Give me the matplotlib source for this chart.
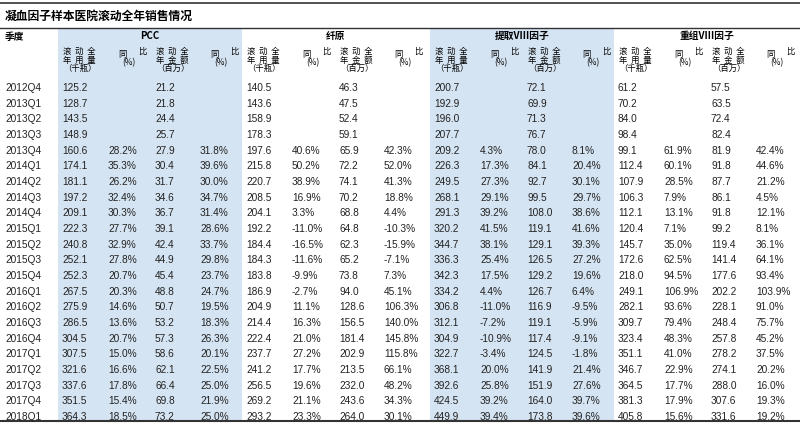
import matplotlib
matplotlib.use("Agg")
import matplotlib.pyplot as plt

plt.rcParams['font.family'] = ['Liberation Sans', 'Noto Sans CJK SC', 'DejaVu Sans']

quarters = ["2012Q4","2013Q1","2013Q2","2013Q3","2013Q4","2014Q1","2014Q2","2014Q3","2014Q4",
            "2015Q1","2015Q2","2015Q3","2015Q4","2016Q1","2016Q2","2016Q3","2016Q4",
            "2017Q1","2017Q2","2017Q3","2017Q4","2018Q1"]
groups = ["PCC", "纤原", "提取VIII因子", "重组VIII因子"]

pcc_vol = ["125.2","128.7","143.5","148.9","160.6","174.1","181.1","197.2","209.1","222.3","240.8","252.1","252.3","267.5","275.9","286.5","304.5","307.5","321.6","337.6","351.5","364.3"]
pcc_vol_yoy = ["","","","","28.2%","35.3%","26.2%","32.4%","30.3%","27.7%","32.9%","27.8%","20.7%","20.3%","14.6%","13.6%","20.7%","15.0%","16.6%","17.8%","15.4%","18.5%"]
pcc_amt = ["21.2","21.8","24.4","25.7","27.9","30.4","31.7","34.6","36.7","39.1","42.4","44.9","45.4","48.8","50.7","53.2","57.3","58.6","62.1","66.4","69.8","73.2"]
pcc_amt_yoy = ["","","","","31.8%","39.6%","30.0%","34.7%","31.4%","28.6%","33.7%","29.8%","23.7%","24.7%","19.5%","18.3%","26.3%","20.1%","22.5%","25.0%","21.9%","25.0%"]

fib_vol = ["140.5","143.6","158.9","178.3","197.6","215.8","220.7","208.5","204.1","192.2","184.4","184.3","183.8","186.9","204.9","214.4","222.4","237.7","241.2","256.5","269.2","293.2"]
fib_vol_yoy = ["","","","","40.6%","50.2%","38.9%","16.9%","3.3%","-11.0%","-16.5%","-11.6%","-9.9%","-2.7%","11.1%","16.3%","21.0%","27.2%","17.7%","19.6%","21.1%","23.3%"]
fib_amt = ["46.3","47.5","52.4","59.1","65.9","72.2","74.1","70.2","68.8","64.8","62.3","65.2","73.8","94.0","128.6","156.5","181.4","202.9","213.5","232.0","243.6","264.0"]
fib_amt_yoy = ["","","","","42.3%","52.0%","41.3%","18.8%","4.4%","-10.3%","-15.9%","-7.1%","7.3%","45.1%","106.3%","140.0%","145.8%","115.8%","66.1%","48.2%","34.3%","30.1%"]

ex8_vol = ["200.7","192.9","196.0","207.7","209.2","226.3","249.5","268.1","291.3","320.2","344.7","336.3","342.3","334.2","306.8","312.1","304.9","322.7","368.1","392.6","424.5","449.9"]
ex8_vol_yoy = ["","","","","4.3%","17.3%","27.3%","29.1%","39.2%","41.5%","38.1%","25.4%","17.5%","4.4%","-11.0%","-7.2%","-10.9%","-3.4%","20.0%","25.8%","39.2%","39.4%"]
ex8_amt = ["72.1","69.9","71.3","76.7","78.0","84.1","92.7","99.5","108.0","119.1","129.1","126.5","129.2","126.7","116.9","119.1","117.4","124.5","141.9","151.9","164.0","173.8"]
ex8_amt_yoy = ["","","","","8.1%","20.4%","30.1%","29.7%","38.6%","41.6%","39.3%","27.2%","19.6%","6.4%","-9.5%","-5.9%","-9.1%","-1.8%","21.4%","27.6%","39.7%","39.6%"]

re8_vol = ["61.2","70.2","84.0","98.4","99.1","112.4","107.9","106.3","112.1","120.4","145.7","172.6","218.0","249.1","282.1","309.7","323.4","351.1","346.7","364.5","381.3","405.8"]
re8_vol_yoy = ["","","","","61.9%","60.1%","28.5%","7.9%","13.1%","7.1%","35.0%","62.5%","94.5%","106.9%","93.6%","79.4%","48.3%","41.0%","22.9%","17.7%","17.9%","15.6%"]
re8_amt = ["57.5","63.5","72.4","82.4","81.9","91.8","87.7","86.1","91.8","99.2","119.4","141.4","177.6","202.2","228.1","248.4","257.8","278.2","274.1","288.0","307.6","331.6"]
re8_amt_yoy = ["","","","","42.4%","44.6%","21.2%","4.5%","12.1%","8.1%","36.1%","64.1%","93.4%","103.9%","91.0%","75.7%","45.2%","37.5%","20.2%","16.0%","19.3%","19.2%"]

columns = [pcc_vol, pcc_vol_yoy, pcc_amt, pcc_amt_yoy,
           fib_vol, fib_vol_yoy, fib_amt, fib_amt_yoy,
           ex8_vol, ex8_vol_yoy, ex8_amt, ex8_amt_yoy,
           re8_vol, re8_vol_yoy, re8_amt, re8_amt_yoy]

fig = plt.figure(figsize=(8, 4.25), dpi=100)
ax = fig.add_axes([0, 0, 1, 1])
ax.set_xlim(0, 800)
ax.set_ylim(425, 0)
ax.axis('off')

blue = '#d5e4f2'
group_x = [(58, 242), (242, 430), (430, 614), (614, 800)]
col_off = [4, 50, 97, 142]
for gi, (x0, x1) in enumerate(group_x):
    if gi in (0, 2):
        ax.add_patch(plt.Rectangle((x0, 29), x1 - x0, 392, color=blue, lw=0, zorder=0))

ax.plot([0, 800], [3, 3], color='#333333', lw=1.2)
ax.plot([0, 800], [28, 28], color='#333333', lw=1.0)
ax.plot([0, 800], [421, 421], color='#333333', lw=1.5)

cjk = ['Noto Sans CJK SC', 'DejaVu Sans']
ax.text(5, 16, "凝血因子样本医院滚动全年销售情况", fontsize=8.5, fontweight='bold', family=cjk, va='center')
ax.text(5, 37, "季度", fontsize=7, fontweight='bold', family=cjk, va='center')
for gi, (x0, x1) in enumerate(group_x):
    ax.text((x0 + x1) / 2, 36, groups[gi], fontsize=7, fontweight='bold', family=cjk, va='center', ha='center')
    for k in range(4):
        x = x0 + col_off[k]
        if k % 2 == 0:
            lab = "滚  动  全\n年  用  量\n（千瓶）" if k == 0 else "滚  动  全\n年  金  额\n（百万）"
            ax.text(x + 1, 60, lab, fontsize=6, family=cjk, va='center', ha='left', linespacing=0.95)
        else:
            ax.text(x + 10, 54, "同", fontsize=6, family=cjk, va='center')
            ax.text(x + 14, 63, "(%)", fontsize=6, family=cjk, va='center')
            ax.text(x + 30, 51, "比", fontsize=6, family=cjk, va='center')

y0, dy = 88, (417 - 88) / 21
for r, q in enumerate(quarters):
    y = y0 + r * dy
    ax.text(5, y, q, fontsize=7.3, va='center', color='#222222')
    for c, vals in enumerate(columns):
        gi, k = divmod(c, 4)
        ax.text(group_x[gi][0] + col_off[k], y, vals[r], fontsize=7.3, va='center', color='#222222')

fig.savefig("out.png", dpi=100)
